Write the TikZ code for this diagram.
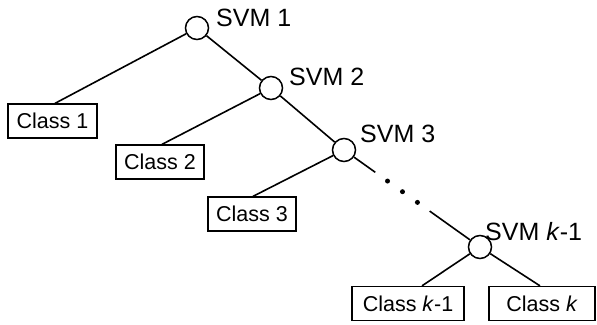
\documentclass[tikz,border=0pt]{standalone}
\usepackage{fontspec}
\setmainfont{Liberation Sans}
\usetikzlibrary{calc}
\begin{document}
\begin{tikzpicture}[x=1pt,y=-1pt,
  svm/.style={circle,draw,line width=1.5pt,minimum size=23pt,inner sep=0pt,fill=white},
  classbox/.style={rectangle,draw,line width=1.3pt,minimum height=34pt,inner sep=0pt,
                   font=\fontsize{21.5}{25}\selectfont},
  svmlabel/.style={anchor=base west,inner sep=0pt,font=\fontsize{25}{29}\selectfont},
  edge/.style={line width=1.6pt},
  dotmark/.style={circle,fill,inner sep=0pt,minimum size=5pt}]
\useasboundingbox (0,0) rectangle (597,324);

% decision nodes
\node[svm] (s1) at (197,28) {};
\node[svm] (s2) at (271,88) {};
\node[svm] (s3) at (344,150) {};
\node[svm] (sk) at (480,247) {};

\node[svmlabel] (l1) at (216,26.5) {SVM 1};
\node[svmlabel] (l2) at (289,85) {SVM 2};
\node[svmlabel] (l3) at (360,142) {SVM 3};
\node[svmlabel] (lk) at (485,240) {SVM \textit{k}-1};

% leaves
\node[classbox,minimum width=89pt] (c1) at (52.5,121) {Class 1};
\node[classbox,minimum width=88pt] (c2) at (160,162) {Class 2};
\node[classbox,minimum width=88pt] (c3) at (252,214) {Class 3};
\node[classbox,minimum width=112pt] (ck1) at (408,303.5) {Class \textit{k}-1};
\node[classbox,minimum width=106pt] (ck) at (542,303.5) {Class \textit{k}};

% branches
\draw[edge] (s1) -- ($(c1.north)+(2.5,0)$);
\draw[edge] (s1) -- (s2);
\draw[edge] (s2) -- ($(c2.north)+(2,0)$);
\draw[edge] (s2) -- (s3);
\draw[edge] (s3) -- ($(c3.north)+(1,0)$);
\draw[edge] (sk) -- ($(ck1.north)+(14,0)$);
\draw[edge] (sk) -- ($(ck.north)+(-2,0)$);

% elided part of the chain
\coordinate (gapA) at ($(s3)!0.23!(sk)$);
\coordinate (gapB) at ($(s3)!0.63!(sk)$);
\draw[edge] (s3) -- (gapA);
\draw[edge] (gapB) -- (sk);
\node[dotmark] (d1) at ($(s3)!0.32!(sk)$) {};
\node[dotmark] (d2) at ($(s3)!0.43!(sk)$) {};
\node[dotmark] (d3) at ($(s3)!0.54!(sk)$) {};
\end{tikzpicture}
\end{document}
